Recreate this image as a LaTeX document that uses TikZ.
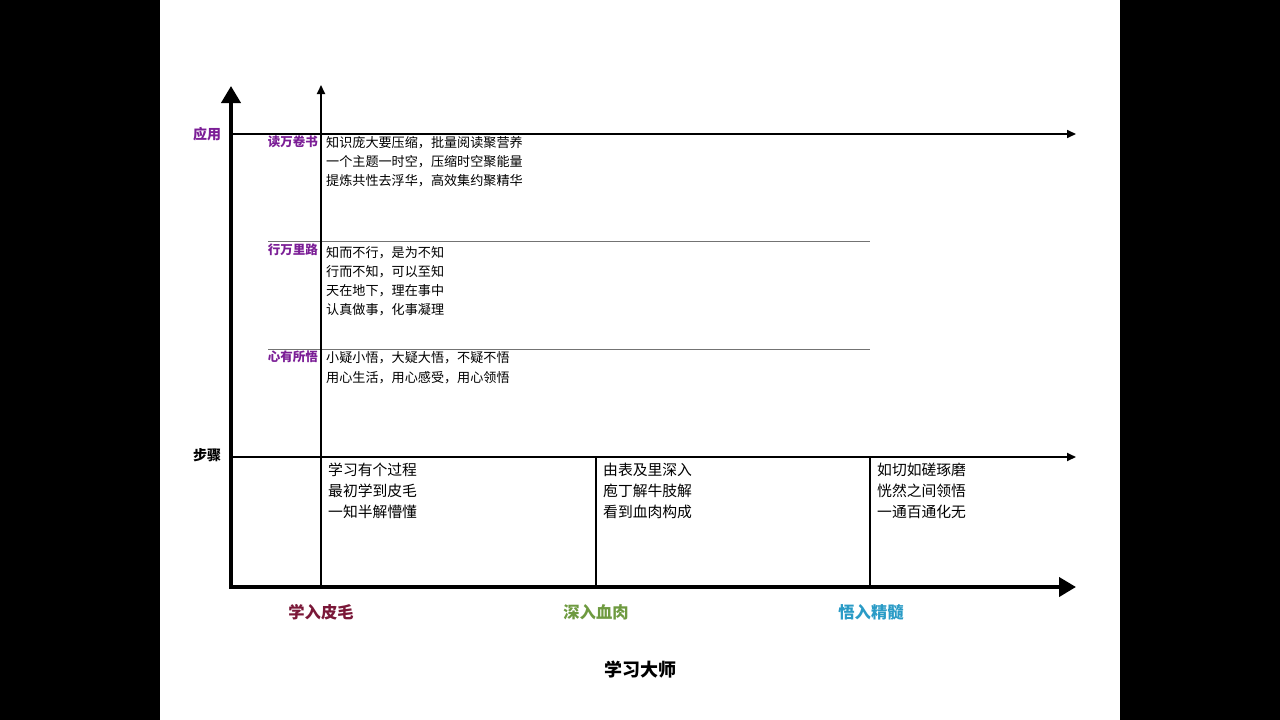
\documentclass[tikz,border=0pt]{standalone}
\usepackage{fontspec}
\setmainfont{Noto Sans CJK SC}
\usetikzlibrary{arrows.meta}
\definecolor{lblpurple}{HTML}{7B1E96}
\definecolor{lblred}{HTML}{7A1838}
\definecolor{lblgreen}{HTML}{6E9A40}
\definecolor{lblblue}{HTML}{2A9BC6}
\tikzset{
  bigaxis/.style={line width=4pt,-{Triangle[length=17pt,width=19pt]}},
  thinaxis/.style={line width=1.6pt,-{Triangle[length=9pt,width=8pt]}},
  divider/.style={line width=1.5pt},
  grayline/.style={line width=0.9pt,draw=black!55},
  rowlbl/.style={anchor=east,inner sep=0pt,text=lblpurple,font=\fontsize{12.5}{14}\selectfont\bfseries},
  axlbl/.style={anchor=center,inner sep=0pt,font=\fontsize{14}{16}\selectfont\bfseries},
  txt/.style={anchor=west,inner sep=0pt,font=\fontsize{13.1}{15}\selectfont},
  btxt/.style={anchor=west,inner sep=0pt,font=\fontsize{14.8}{16}\selectfont},
  stage/.style={anchor=center,inner sep=0pt,font=\fontsize{16.3}{18}\selectfont\bfseries},
}
\begin{document}
\begin{tikzpicture}[x=1pt,y=-1pt]
\useasboundingbox (0,0) rectangle (1280,720);
\fill[black] (0,0) rectangle (160,720);
\fill[black] (1120,0) rectangle (1280,720);
% coordinates
\coordinate (o) at (231,587);
\coordinate (ytop) at (231,86);
\coordinate (xend) at (1076,587);
\coordinate (v0) at (321,587);
\coordinate (v0top) at (321,85);
\coordinate (ha0) at (231,134);
\coordinate (ha1) at (1076,134);
\coordinate (hs0) at (231,457);
\coordinate (hs1) at (1076,457);
\coordinate (g1a) at (268,241);
\coordinate (g1b) at (870,241);
\coordinate (g2a) at (268,349);
\coordinate (g2b) at (870,349);
\coordinate (d1a) at (596,457);
\coordinate (d1b) at (596,587);
\coordinate (d2a) at (870,457);
\coordinate (d2b) at (870,587);
% lines
\draw[grayline] (g1a) -- (g1b);
\draw[grayline] (g2a) -- (g2b);
\draw[divider] (d1a) -- (d1b);
\draw[divider] (d2a) -- (d2b);
\draw[thinaxis] (ha0) -- (ha1);
\draw[thinaxis,line width=2pt] (hs0) -- (hs1);
\draw[thinaxis,line width=2pt] (v0) -- (v0top);
\draw[bigaxis] ([yshift=2pt]o) -- (ytop);
\draw[bigaxis] ([xshift=-2pt]o) -- (xend);
% axis labels
\node[axlbl,text=lblpurple] (ying) at (207,134) {应用};
\node[axlbl] (buzhou) at (207,455) {步骤};
% row labels
\node[rowlbl] (r1) at (318,142) {读万卷书};
\node[rowlbl] (r2) at (318,250) {行万里路};
\node[rowlbl] (r3) at (318,357) {心有所悟};
% row 1 text
\node[txt] (t11) at (326,143) {知识庞大要压缩，批量阅读聚营养};
\node[txt] (t12) at (326,162) {一个主题一时空，压缩时空聚能量};
\node[txt] (t13) at (326,181) {提炼共性去浮华，高效集约聚精华};
% row 2 text
\node[txt] (t21) at (326,253) {知而不行，是为不知};
\node[txt] (t22) at (326,272) {行而不知，可以至知};
\node[txt] (t23) at (326,291) {天在地下，理在事中};
\node[txt] (t24) at (326,310) {认真做事，化事凝理};
% row 3 text
\node[txt] (t31) at (326,358) {小疑小悟，大疑大悟，不疑不悟};
\node[txt] (t32) at (326,378) {用心生活，用心感受，用心领悟};
% bottom cells
\node[btxt] (b11) at (328,470) {学习有个过程};
\node[btxt] (b12) at (328,491) {最初学到皮毛};
\node[btxt] (b13) at (328,512) {一知半解懵懂};
\node[btxt] (b21) at (603,470) {由表及里深入};
\node[btxt] (b22) at (603,491) {庖丁解牛肢解};
\node[btxt] (b23) at (603,512) {看到血肉构成};
\node[btxt] (b31) at (877,470) {如切如磋琢磨};
\node[btxt] (b32) at (877,491) {恍然之间领悟};
\node[btxt] (b33) at (877,512) {一通百通化无};
% stages
\node[stage,text=lblred] (s1) at (321,612) {学入皮毛};
\node[stage,text=lblgreen] (s2) at (596,612) {深入血肉};
\node[stage,text=lblblue] (s3) at (871,612) {悟入精髓};
% title
\node[stage,font=\fontsize{18}{20}\selectfont\bfseries] (title) at (640,670) {学习大师};
\end{tikzpicture}
\end{document}
